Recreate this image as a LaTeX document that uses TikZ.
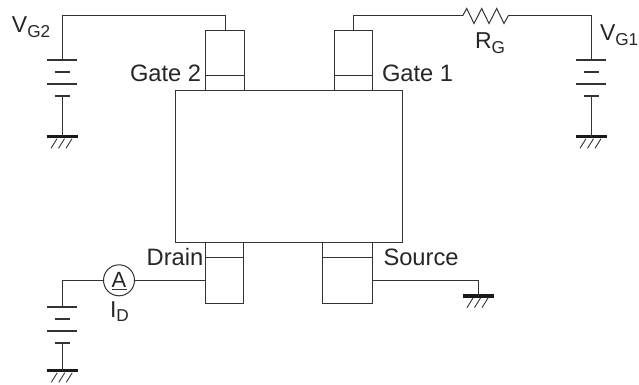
\documentclass[tikz,border=0pt]{standalone}
\usepackage{fontspec}
\setmainfont{Liberation Sans}
\definecolor{ink}{HTML}{333333}
\newcommand{\bigt}[1]{{\fontsize{23.7}{24}\selectfont #1}}
\newcommand{\symb}[2]{{\fontsize{23}{23}\selectfont #1}\raisebox{-4.6pt}{\fontsize{17.2}{18}\selectfont #2}}
\tikzset{
  wire/.style={draw=ink,line width=1pt},
  device/.style={draw=ink,line width=1pt,rectangle,inner sep=0pt,outer sep=0pt},
  lbl/.style={inner sep=0pt,outer sep=0pt,anchor=base west,text=black!85},
  groundmark/.pic={
    \draw[draw=black!90,line width=3.4pt] (-15.5,0) -- (15.5,0);
    \foreach \dx in {-5,2.5,10}
      \draw[draw=ink,line width=0.9pt] (\dx,2) -- ({\dx-6},11.6);
  },
  battery/.pic={
    \coordinate (-top) at (0,0);
    \coordinate (-bot) at (0,36);
    \draw[draw=ink,line width=1.9pt] (-15,0) -- (15,0);
    \draw[draw=ink,line width=1.9pt] (-7.5,12) -- (7.5,12);
    \draw[draw=ink,line width=1.9pt] (-15,24) -- (15,24);
    \draw[draw=ink,line width=1.9pt] (-7.5,36) -- (7.5,36);
  }
}
\begin{document}
\begin{tikzpicture}[x=1pt,y=-1pt]
\useasboundingbox (0,0) rectangle (639,385);
% package body
\node[device,minimum width=226.6pt,minimum height=151.7pt] (body) at (289,166.85) {};
% pads
\node[device,minimum width=38.6pt,minimum height=60.3pt] (g2) at (225,60.85) {};
\node[device,minimum width=38pt,minimum height=60.3pt] (g1) at (353.3,60.85) {};
\node[device,minimum width=37.6pt,minimum height=60.3pt] (drain) at (224.5,272.85) {};
\node[device,minimum width=49.6pt,minimum height=60.3pt] (source) at (347.5,272.85) {};
\draw[wire] (205.7,76) -- (243.6,76);
\draw[wire] (334.3,76) -- (372.3,76);
\draw[wire] (205.7,257.7) -- (243.3,257.7);
\draw[wire] (322.7,257.7) -- (372.3,257.7);
% batteries and grounds
\pic (b2) at (62,59.7) {battery};
\pic (b1) at (591,59.7) {battery};
\pic (bd) at (62.3,306.7) {battery};
\coordinate (gnd2) at (62,136.7);
\coordinate (gnd1) at (591,136.7);
\coordinate (gndd) at (62.3,370.7);
\coordinate (gnds) at (478,296);
\pic at (gnd2) {groundmark};
\pic at (gnd1) {groundmark};
\pic at (gndd) {groundmark};
\pic at (gnds) {groundmark};
% resistor
\coordinate (rin) at (462.7,15.7);
\coordinate (rout) at (508.3,15.7);
\draw[wire,line join=miter] (rin) -- (466.7,8.5) -- (474,23.5) -- (481.7,8.5) -- (489,23.5) -- (496.7,8.5) -- (504,23.5) -- (rout);
% ammeter
\node[draw=ink,line width=1pt,circle,minimum size=31pt,inner sep=0pt,outer sep=0pt] (amm) at (119,280.3) {};
\node[lbl,anchor=base] (ammA) at (119,287) {\fontsize{22}{22}\selectfont A};
\coordinate (ammU1) at (111.5,289.6);
\coordinate (ammU2) at (126.5,289.6);
\draw[wire] (ammU1) -- (ammU2);
% connectors
\draw[wire] (g2.north) |- (62,15.7) -- (b2-top);
\draw[wire] (g1.north) |- (rin);
\draw[wire] (rout) -| (b1-top);
\draw[wire] (b2-bot) -- (gnd2);
\draw[wire] (b1-bot) -- (gnd1);
\draw[wire] (bd-bot) -- (gndd);
\draw[wire] (bd-top) |- (amm.west);
\draw[wire] (amm.east) -- (drain.west |- amm.east);
\draw[wire] (source.east |- amm.east) -| (gnds);
% labels
\node[lbl] (lg2) at (130,82) {\bigt{Gate 2}};
\node[lbl] (lg1) at (382,82) {\bigt{Gate 1}};
\node[lbl] (ld) at (146.7,265) {\bigt{Drain}};
\node[lbl] (ls) at (383.5,265.5) {\bigt{Source}};
\node[lbl] (vg2) at (12,33) {\symb{V}{G2}};
\node[lbl] (vg1) at (600,40.7) {\symb{V}{G1}};
\node[lbl] (rg) at (475,49) {\symb{R}{G}};
\node[lbl] (id) at (110,317) {\symb{I}{D}};
\end{tikzpicture}
\end{document}
